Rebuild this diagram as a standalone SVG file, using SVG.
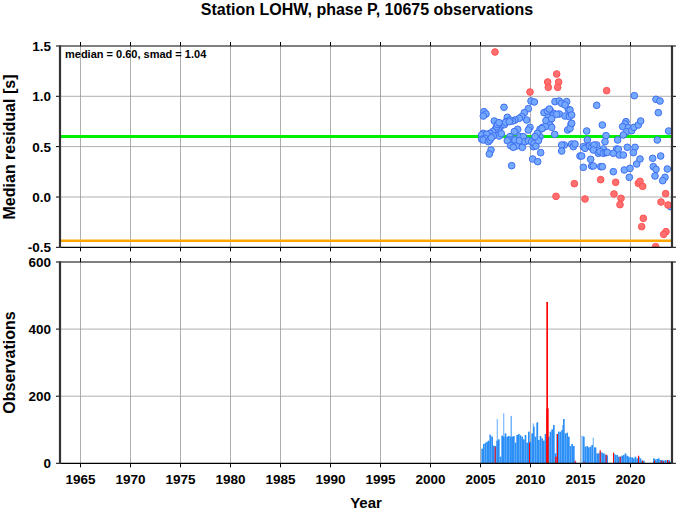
<svg xmlns="http://www.w3.org/2000/svg" width="678" height="511" viewBox="0 0 678 511">
<style>
text{font-family:"Liberation Sans",Arial,sans-serif;font-weight:bold;fill:#000}
.yl{font-size:13.5px;text-anchor:end}
.xl{font-size:13.5px;text-anchor:middle}
.grid{stroke:#9a9a9a;stroke-width:0.8;fill:none}
.tick{stroke:#000;stroke-width:1;fill:none}
.bp circle{fill:#74a9ff;stroke:#3f6ff0;stroke-width:3}
.rp circle{fill:#ff6f6f;stroke:#ff5252;stroke-width:3}
.db rect{fill:#2b8ff7}
.lb rect{fill:#86c0ff}
.rb rect{fill:#ff0000}
</style>
<defs>
<clipPath id="c1"><rect x="60" y="46" width="612" height="201.3"/></clipPath>
<clipPath id="c2"><rect x="60" y="262" width="612" height="201.3"/></clipPath>
</defs>
<rect width="678" height="511" fill="#fff"/>
<text x="367" y="15" style="font-size:16px;text-anchor:middle">Station LOHW, phase P, 10675 observations</text>

<g id="top-panel">
<g class="grid">
<path d="M80.5 46V247.3M130.5 46V247.3M180.5 46V247.3M230.5 46V247.3M280.5 46V247.3M330.5 46V247.3M380.5 46V247.3M430.5 46V247.3M480.5 46V247.3M530.5 46V247.3M580.5 46V247.3M630.5 46V247.3"/>
<path d="M60 96.3H672M60 146.6H672M60 197H672"/>
</g>
<line x1="60" y1="136.5" x2="672" y2="136.5" stroke="#00ee00" stroke-width="3.2"/>
<line x1="60" y1="240.7" x2="672" y2="240.7" stroke="#ffa500" stroke-width="2.4"/>
<g clip-path="url(#c1)">
<g transform="translate(460,30) scale(0.33333)">
<g class="bp">
<circle cx="72" cy="245" r="10"/><circle cx="78" cy="252" r="10"/><circle cx="70" cy="258" r="10"/><circle cx="132" cy="232" r="10"/><circle cx="103" cy="273" r="10"/><circle cx="213" cy="213" r="10"/><circle cx="223" cy="216" r="10"/><circle cx="205" cy="236" r="10"/><circle cx="193" cy="248" r="10"/><circle cx="200" cy="270" r="10"/><circle cx="185" cy="260" r="10"/><circle cx="178" cy="265" r="10"/><circle cx="165" cy="270" r="10"/><circle cx="158" cy="273" r="10"/><circle cx="142" cy="262" r="10"/><circle cx="150" cy="270" r="10"/><circle cx="138" cy="275" r="10"/><circle cx="126" cy="285" r="10"/><circle cx="120" cy="292" r="10"/><circle cx="115" cy="300" r="10"/><circle cx="106" cy="298" r="10"/><circle cx="98" cy="305" r="10"/><circle cx="90" cy="310" r="10"/><circle cx="85" cy="320" r="10"/><circle cx="70" cy="310" r="10"/><circle cx="65" cy="315" r="10"/><circle cx="80" cy="313" r="10"/><circle cx="75" cy="325" r="10"/><circle cx="65" cy="328" r="10"/><circle cx="173" cy="298" r="10"/><circle cx="163" cy="305" r="10"/><circle cx="150" cy="320" r="10"/><circle cx="155" cy="330" r="10"/><circle cx="145" cy="330" r="10"/><circle cx="160" cy="340" r="10"/><circle cx="210" cy="292" r="10"/><circle cx="205" cy="300" r="10"/><circle cx="180" cy="320" r="10"/><circle cx="190" cy="320" r="10"/><circle cx="165" cy="330" r="10"/><circle cx="170" cy="348" r="10"/><circle cx="70" cy="330" r="10"/><circle cx="85" cy="335" r="10"/><circle cx="90" cy="330" r="10"/><circle cx="93" cy="360" r="10"/><circle cx="88" cy="372" r="10"/><circle cx="155" cy="407" r="10"/><circle cx="142" cy="332" r="10"/><circle cx="152" cy="347" r="10"/><circle cx="160" cy="352" r="10"/><circle cx="178" cy="332" r="10"/><circle cx="187" cy="352" r="10"/><circle cx="195" cy="335" r="10"/><circle cx="110" cy="290" r="10"/><circle cx="118" cy="318" r="10"/><circle cx="124" cy="311" r="10"/><circle cx="100" cy="318" r="10"/><circle cx="94" cy="323" r="10"/><circle cx="112" cy="283" r="10"/><circle cx="133" cy="284" r="10"/><circle cx="137" cy="277" r="10"/><circle cx="148" cy="275" r="10"/><circle cx="117" cy="278" r="10"/>
<circle cx="285" cy="215" r="10"/><circle cx="298" cy="213" r="10"/><circle cx="305" cy="220" r="10"/><circle cx="320" cy="215" r="10"/><circle cx="325" cy="238" r="10"/><circle cx="315" cy="225" r="10"/><circle cx="280" cy="250" r="10"/><circle cx="270" cy="240" r="10"/><circle cx="252" cy="248" r="10"/><circle cx="265" cy="262" r="10"/><circle cx="258" cy="272" r="10"/><circle cx="275" cy="266" r="10"/><circle cx="298" cy="252" r="10"/><circle cx="315" cy="258" r="10"/><circle cx="328" cy="260" r="10"/><circle cx="323" cy="300" r="10"/><circle cx="240" cy="298" r="10"/><circle cx="248" cy="292" r="10"/><circle cx="270" cy="285" r="10"/><circle cx="275" cy="292" r="10"/><circle cx="313" cy="345" r="10"/><circle cx="305" cy="345" r="10"/><circle cx="335" cy="342" r="10"/><circle cx="340" cy="350" r="10"/><circle cx="240" cy="320" r="10"/><circle cx="235" cy="330" r="10"/><circle cx="225" cy="335" r="10"/><circle cx="220" cy="350" r="10"/><circle cx="205" cy="332" r="10"/><circle cx="215" cy="335" r="10"/><circle cx="222" cy="340" r="10"/><circle cx="228" cy="348" r="10"/><circle cx="235" cy="332" r="10"/><circle cx="242" cy="368" r="10"/><circle cx="218" cy="387" r="10"/><circle cx="233" cy="395" r="10"/><circle cx="305" cy="363" r="10"/><circle cx="345" cy="342" r="10"/><circle cx="284" cy="313" r="10"/><circle cx="333" cy="283" r="10"/><circle cx="256" cy="290" r="10"/><circle cx="246" cy="296" r="10"/><circle cx="232" cy="310" r="10"/><circle cx="225" cy="320" r="10"/><circle cx="262" cy="243" r="10"/><circle cx="268" cy="237" r="10"/><circle cx="290" cy="253" r="10"/>
<circle cx="360" cy="378" r="10"/><circle cx="330" cy="295" r="10"/><circle cx="330" cy="240" r="10"/><circle cx="335" cy="255" r="10"/><circle cx="335" cy="280" r="10"/><circle cx="410" cy="226" r="10"/><circle cx="380" cy="303" r="10"/><circle cx="427" cy="285" r="10"/><circle cx="438" cy="317" r="10"/><circle cx="382" cy="330" r="10"/><circle cx="435" cy="335" r="10"/><circle cx="473" cy="330" r="10"/><circle cx="498" cy="275" r="10"/><circle cx="495" cy="282" r="10"/><circle cx="488" cy="290" r="10"/><circle cx="505" cy="293" r="10"/><circle cx="500" cy="305" r="10"/><circle cx="515" cy="302" r="10"/><circle cx="522" cy="292" r="10"/><circle cx="535" cy="285" r="10"/><circle cx="542" cy="273" r="10"/><circle cx="490" cy="315" r="10"/><circle cx="370" cy="350" r="10"/><circle cx="385" cy="348" r="10"/><circle cx="375" cy="355" r="10"/><circle cx="398" cy="353" r="10"/><circle cx="410" cy="345" r="10"/><circle cx="430" cy="357" r="10"/><circle cx="470" cy="357" r="10"/><circle cx="502" cy="352" r="10"/><circle cx="525" cy="352" r="10"/><circle cx="388" cy="348" r="10"/><circle cx="395" cy="352" r="10"/><circle cx="402" cy="345" r="10"/><circle cx="400" cy="360" r="10"/><circle cx="415" cy="370" r="10"/><circle cx="420" cy="365" r="10"/><circle cx="430" cy="370" r="10"/><circle cx="438" cy="368" r="10"/><circle cx="442" cy="367" r="10"/><circle cx="460" cy="370" r="10"/><circle cx="475" cy="358" r="10"/><circle cx="478" cy="375" r="10"/><circle cx="490" cy="375" r="10"/><circle cx="520" cy="368" r="10"/><circle cx="365" cy="378" r="10"/><circle cx="392" cy="388" r="10"/><circle cx="370" cy="412" r="10"/><circle cx="395" cy="408" r="10"/><circle cx="400" cy="408" r="10"/><circle cx="422" cy="410" r="10"/><circle cx="427" cy="410" r="10"/><circle cx="460" cy="425" r="10"/><circle cx="493" cy="420" r="10"/><circle cx="510" cy="415" r="10"/><circle cx="508" cy="442" r="10"/><circle cx="530" cy="402" r="10"/><circle cx="540" cy="387" r="10"/>
<circle cx="523" cy="197" r="10"/><circle cx="588" cy="208" r="10"/><circle cx="600" cy="213" r="10"/><circle cx="595" cy="248" r="10"/><circle cx="626" cy="303" r="10"/><circle cx="592" cy="330" r="10"/><circle cx="578" cy="385" r="10"/><circle cx="602" cy="378" r="10"/><circle cx="580" cy="410" r="10"/><circle cx="588" cy="418" r="10"/><circle cx="622" cy="417" r="10"/><circle cx="585" cy="438" r="10"/><circle cx="615" cy="442" r="10"/><circle cx="608" cy="452" r="10"/><circle cx="632" cy="530" r="10"/>
</g>
<g class="rp">
<circle cx="105" cy="66" r="10"/><circle cx="290" cy="132" r="10"/><circle cx="263" cy="156" r="10"/><circle cx="296" cy="156" r="10"/><circle cx="265" cy="172" r="10"/><circle cx="293" cy="172" r="10"/><circle cx="210" cy="186" r="10"/><circle cx="440" cy="182" r="10"/><circle cx="343" cy="461" r="10"/><circle cx="422" cy="449" r="10"/><circle cx="467" cy="457" r="10"/><circle cx="288" cy="499" r="10"/><circle cx="375" cy="507" r="10"/><circle cx="462" cy="492" r="10"/><circle cx="483" cy="505" r="10"/><circle cx="480" cy="524" r="10"/><circle cx="535" cy="460" r="10"/><circle cx="540" cy="454" r="10"/><circle cx="548" cy="469" r="10"/><circle cx="617" cy="491" r="10"/><circle cx="603" cy="516" r="10"/><circle cx="624" cy="525" r="10"/><circle cx="550" cy="565" r="10"/><circle cx="545" cy="590" r="10"/><circle cx="618" cy="605" r="10"/><circle cx="611" cy="613" r="10"/><circle cx="587" cy="650" r="10"/>
</g>
</g>
</g>
<g class="tick">
<path d="M80.5 247.3v4M130.5 247.3v4M180.5 247.3v4M230.5 247.3v4M280.5 247.3v4M330.5 247.3v4M380.5 247.3v4M430.5 247.3v4M480.5 247.3v4M530.5 247.3v4M580.5 247.3v4M630.5 247.3v4"/>
<path d="M80.5 46v-4M130.5 46v-4M180.5 46v-4M230.5 46v-4M280.5 46v-4M330.5 46v-4M380.5 46v-4M430.5 46v-4M480.5 46v-4M530.5 46v-4M580.5 46v-4M630.5 46v-4"/>
<path d="M60 46h-4M60 96.3h-4M60 146.6h-4M60 197h-4M60 247.3h-4M672 46h4M672 96.3h4M672 146.6h4M672 197h4M672 247.3h4"/>
</g>
<path d="M60 46H672M60 247.3H672" stroke="#000" stroke-width="1.2" fill="none"/>
<path d="M60 45.4V247.9M672 45.4V247.9" stroke="#333" stroke-width="2.2" fill="none"/>
<text x="65" y="57.5" style="font-size:11px">median = 0.60, smad = 1.04</text>
<text class="yl" x="51" y="51">1.5</text>
<text class="yl" x="51" y="101.3">1.0</text>
<text class="yl" x="51" y="151.6">0.5</text>
<text class="yl" x="51" y="202">0.0</text>
<text class="yl" x="51" y="252.3">-0.5</text>
<text transform="translate(15,147) rotate(-90)" style="font-size:16px;text-anchor:middle">Median residual [s]</text>
</g>

<g id="bottom-panel">
<g class="grid">
<path d="M80.5 262V463.3M130.5 262V463.3M180.5 262V463.3M230.5 262V463.3M280.5 262V463.3M330.5 262V463.3M380.5 262V463.3M430.5 262V463.3M480.5 262V463.3M530.5 262V463.3M580.5 262V463.3M630.5 262V463.3"/>
<path d="M60 329.1H672M60 396.2H672"/>
</g>
<g clip-path="url(#c2)">
<g transform="translate(460,290) scale(0.33333)">
<g class="lb">
<rect x="110" y="387" width="4" height="133"/><rect x="129" y="370" width="4" height="150"/><rect x="218" y="400" width="4" height="120"/><rect x="231" y="396" width="4" height="124"/><rect x="364" y="437" width="6" height="83"/><rect x="398" y="443" width="4" height="77"/><rect x="88" y="432" width="4" height="88"/><rect x="306" y="405" width="4" height="115"/>
</g>
<g class="db">
<rect x="64" y="476" width="5" height="44"/><rect x="69" y="462" width="5" height="58"/><rect x="74" y="458" width="5" height="62"/><rect x="79" y="455" width="5" height="65"/><rect x="84" y="452" width="5" height="68"/><rect x="89" y="436" width="5" height="84"/><rect x="94" y="440" width="5" height="80"/><rect x="99" y="467" width="5" height="53"/><rect x="104" y="468" width="5" height="52"/><rect x="109" y="452" width="5" height="68"/><rect x="114" y="448" width="5" height="72"/><rect x="119" y="500" width="5" height="20"/><rect x="124" y="437" width="5" height="83"/><rect x="129" y="440" width="5" height="80"/><rect x="134" y="430" width="5" height="90"/><rect x="139" y="440" width="5" height="80"/><rect x="144" y="438" width="5" height="82"/><rect x="149" y="440" width="5" height="80"/><rect x="152" y="378" width="3" height="142"/><rect x="154" y="440" width="5" height="80"/><rect x="159" y="438" width="5" height="82"/><rect x="164" y="458" width="5" height="62"/><rect x="169" y="435" width="5" height="85"/><rect x="174" y="432" width="5" height="88"/><rect x="179" y="436" width="5" height="84"/><rect x="184" y="440" width="5" height="80"/><rect x="189" y="448" width="5" height="72"/><rect x="194" y="435" width="5" height="85"/><rect x="199" y="458" width="5" height="62"/><rect x="204" y="425" width="5" height="95"/><rect x="209" y="455" width="5" height="65"/><rect x="214" y="430" width="5" height="90"/><rect x="219" y="410" width="5" height="110"/><rect x="224" y="440" width="5" height="80"/><rect x="229" y="398" width="5" height="122"/><rect x="234" y="450" width="5" height="70"/><rect x="239" y="438" width="5" height="82"/><rect x="244" y="445" width="5" height="75"/><rect x="249" y="452" width="5" height="68"/><rect x="254" y="432" width="5" height="88"/><rect x="259" y="450" width="5" height="70"/><rect x="264" y="440" width="5" height="80"/><rect x="269" y="425" width="5" height="95"/><rect x="274" y="418" width="5" height="102"/><rect x="279" y="405" width="5" height="115"/><rect x="284" y="490" width="5" height="30"/><rect x="289" y="432" width="5" height="88"/><rect x="294" y="425" width="5" height="95"/><rect x="299" y="425" width="5" height="95"/><rect x="304" y="420" width="5" height="100"/><rect x="309" y="387" width="5" height="133"/><rect x="314" y="430" width="5" height="90"/><rect x="319" y="428" width="5" height="92"/><rect x="324" y="440" width="5" height="80"/><rect x="329" y="468" width="5" height="52"/><rect x="334" y="462" width="5" height="58"/><rect x="339" y="468" width="5" height="52"/><rect x="344" y="515" width="5" height="5"/><rect x="369" y="440" width="5" height="80"/><rect x="374" y="470" width="5" height="50"/><rect x="379" y="468" width="5" height="52"/><rect x="384" y="472" width="5" height="48"/><rect x="389" y="470" width="5" height="50"/><rect x="394" y="465" width="5" height="55"/><rect x="402" y="472" width="7" height="48"/><rect x="409" y="490" width="5" height="30"/><rect x="414" y="490" width="5" height="30"/><rect x="419" y="485" width="5" height="35"/><rect x="424" y="488" width="5" height="32"/><rect x="429" y="490" width="5" height="30"/><rect x="434" y="494" width="5" height="26"/><rect x="439" y="496" width="5" height="24"/><rect x="459" y="490" width="5" height="30"/><rect x="464" y="494" width="5" height="26"/><rect x="469" y="495" width="5" height="25"/><rect x="474" y="500" width="5" height="20"/><rect x="479" y="500" width="5" height="20"/><rect x="484" y="497" width="5" height="23"/><rect x="489" y="495" width="5" height="25"/><rect x="494" y="490" width="5" height="30"/><rect x="499" y="497" width="5" height="23"/><rect x="504" y="500" width="5" height="20"/><rect x="509" y="502" width="5" height="18"/><rect x="514" y="502" width="5" height="18"/><rect x="519" y="505" width="5" height="15"/><rect x="524" y="500" width="5" height="20"/><rect x="529" y="505" width="5" height="15"/><rect x="534" y="500" width="5" height="20"/><rect x="539" y="505" width="5" height="15"/><rect x="544" y="512" width="5" height="8"/><rect x="549" y="512" width="5" height="8"/><rect x="579" y="505" width="5" height="15"/><rect x="584" y="508" width="5" height="12"/><rect x="589" y="507" width="5" height="13"/><rect x="594" y="505" width="5" height="15"/><rect x="599" y="510" width="5" height="10"/><rect x="604" y="510" width="5" height="10"/><rect x="609" y="512" width="5" height="8"/><rect x="614" y="510" width="5" height="10"/><rect x="619" y="513" width="5" height="7"/><rect x="624" y="510" width="5" height="10"/><rect x="629" y="515" width="5" height="5"/>
</g>
<g class="rb">
<rect x="104" y="470" width="3" height="50"/><rect x="207" y="458" width="3" height="62"/><rect x="259" y="36" width="5" height="484"/><rect x="259" y="355" width="7" height="165"/><rect x="286" y="500" width="4" height="20"/><rect x="291" y="432" width="3" height="88"/><rect x="344" y="512" width="3" height="8"/><rect x="371" y="515" width="3" height="5"/><rect x="419" y="480" width="3" height="40"/><rect x="437" y="494" width="3" height="26"/><rect x="459" y="488" width="3" height="32"/><rect x="479" y="500" width="3" height="20"/><rect x="534" y="497" width="3" height="23"/><rect x="546" y="512" width="3" height="8"/><rect x="582" y="512" width="3" height="8"/><rect x="602" y="512" width="3" height="8"/><rect x="609" y="514" width="3" height="6"/><rect x="621" y="510" width="3" height="10"/><rect x="627" y="514" width="3" height="6"/>
</g>
</g>
</g>
<g class="tick">
<path d="M80.5 463.3v4M130.5 463.3v4M180.5 463.3v4M230.5 463.3v4M280.5 463.3v4M330.5 463.3v4M380.5 463.3v4M430.5 463.3v4M480.5 463.3v4M530.5 463.3v4M580.5 463.3v4M630.5 463.3v4"/>
<path d="M80.5 262v-4M130.5 262v-4M180.5 262v-4M230.5 262v-4M280.5 262v-4M330.5 262v-4M380.5 262v-4M430.5 262v-4M480.5 262v-4M530.5 262v-4M580.5 262v-4M630.5 262v-4"/>
<path d="M60 262h-4M60 329.1h-4M60 396.2h-4M60 463.3h-4M672 262h4M672 329.1h4M672 396.2h4M672 463.3h4"/>
</g>
<path d="M60 262H672M60 463.3H672" stroke="#000" stroke-width="1.2" fill="none"/>
<path d="M60 261.4V463.9M672 261.4V463.9" stroke="#333" stroke-width="2.2" fill="none"/>
<text class="yl" x="51" y="267">600</text>
<text class="yl" x="51" y="334.1">400</text>
<text class="yl" x="51" y="401.2">200</text>
<text class="yl" x="51" y="468.3">0</text>
<text transform="translate(15,362.5) rotate(-90)" style="font-size:16px;text-anchor:middle">Observations</text>
<text class="xl" x="80.5" y="484">1965</text>
<text class="xl" x="130.5" y="484">1970</text>
<text class="xl" x="180.5" y="484">1975</text>
<text class="xl" x="230.5" y="484">1980</text>
<text class="xl" x="280.5" y="484">1985</text>
<text class="xl" x="330.5" y="484">1990</text>
<text class="xl" x="380.5" y="484">1995</text>
<text class="xl" x="430.5" y="484">2000</text>
<text class="xl" x="480.5" y="484">2005</text>
<text class="xl" x="530.5" y="484">2010</text>
<text class="xl" x="580.5" y="484">2015</text>
<text class="xl" x="630.5" y="484">2020</text>
<text x="366" y="508" style="font-size:15px;text-anchor:middle">Year</text>
</g>
</svg>
